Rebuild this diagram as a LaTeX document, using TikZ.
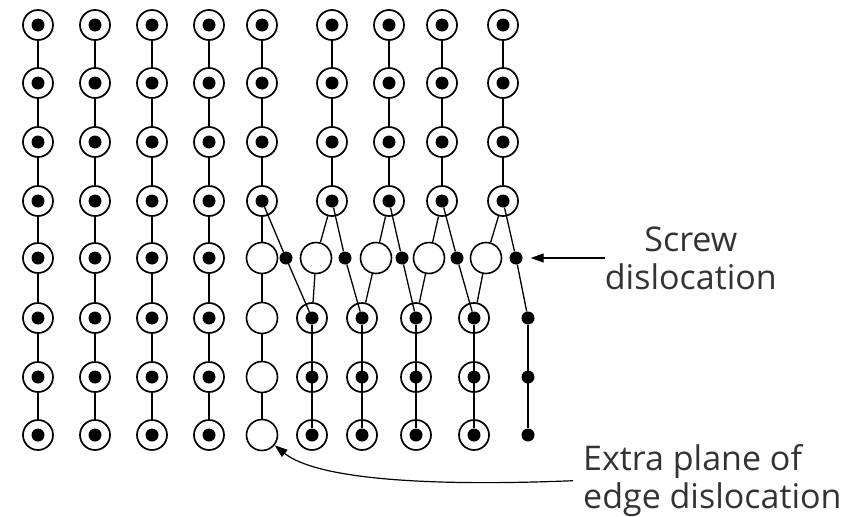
\documentclass[tikz,border=0pt]{standalone}
\usepackage{fontspec}
\setmainfont{Open Sans}
\usetikzlibrary{arrows.meta, positioning}

\begin{document}
\begin{tikzpicture}[x=1pt, y=-1pt,
  atom/.style={circle, draw, line width=1.7pt, minimum size=30pt, inner sep=0pt},
  core/.style={circle, fill, minimum size=13pt, inner sep=0pt},
  hole/.style={circle, draw, line width=1.6pt, minimum size=31pt, inner sep=0pt},
  bond/.style={line width=1.3pt},
  arr/.style={-{Triangle[length=13pt, width=9pt]}, line width=1.2pt},
  lbl/.style={font=\fontsize{34}{38}\selectfont, text=black!80, inner sep=0pt}
]
\useasboundingbox (0,0) rectangle (844,517);

% undisturbed planes on the left
\foreach \x [count=\c] in {38,95,152,209} {
  \foreach \y [count=\r] in {25,83,142,201,258,318,377,435} {
    \node[atom] (a\c-\r) at (\x,\y) {};
    \node[core] at (\x,\y) {};
  }
  \foreach \r in {1,...,7} {
    \pgfmathtruncatemacro\nxt{\r+1}
    \draw[bond] (a\c-\r) -- (a\c-\nxt);
  }
}

% upper half-planes, rows 1-4
\foreach \x [count=\c] in {262,332,389,442,503} {
  \foreach \y [count=\r] in {25,83,142,201} {
    \node[atom] (u\c-\r) at (\x,\y) {};
    \node[core] (k\c-\r) at (\x,\y) {};
  }
  \foreach \r in {1,2,3} {
    \pgfmathtruncatemacro\nxt{\r+1}
    \draw[bond] (u\c-\r) -- (u\c-\nxt);
  }
}

% extra plane (empty sites)
\foreach \y [count=\r from 5] in {258,318,377,435}
  \node[hole] (e-\r) at (262,\y) {};
\draw[bond] (u1-4) -- (e-5) -- (e-6) -- (e-7) -- (e-8);

% row 5: empty sites and the dots along the screw line
\foreach \x [count=\k from 2] in {316,376,429,486}
  \node[hole] (h\k) at (\x,258) {};
\foreach \x [count=\k] in {286,345,402,457,516}
  \node[core] (s\k) at (\x,258) {};

% lower half-planes, rows 6-8
\foreach \x [count=\c] in {312,362,416,474} {
  \foreach \y [count=\r from 6] in {318,377,435} {
    \node[atom] (l\c-\r) at (\x,\y) {};
    \node[core] (m\c-\r) at (\x,\y) {};
  }
}
\foreach \y [count=\r from 6] in {318,377,435}
  \node[core] (m5-\r) at (528,\y) {};
\foreach \c in {1,...,5}
  \draw[bond] (m\c-6) -- (m\c-8);

% zigzag across the slip plane
\foreach \k in {1,...,5}
  \draw[bond] (k\k-4) -- (s\k) -- (m\k-6);
\foreach \k in {2,...,5} {
  \pgfmathtruncatemacro\prv{\k-1}
  \draw[bond] (u\k-4) -- (h\k) -- (l\prv-6);
}

% labels
\node[lbl, align=center, right=82pt of s5] (screw) {Screw\\dislocation};
\draw[arr, shorten >=8pt] (screw) -- (s5);

\node[lbl, align=left, anchor=north west] (extra) at (583,444) {Extra plane of\\edge dislocation};
\draw[arr, shorten <=10pt] (extra.west) .. controls (420,487) and (315,478) .. (e-8);
\end{tikzpicture}
\end{document}
